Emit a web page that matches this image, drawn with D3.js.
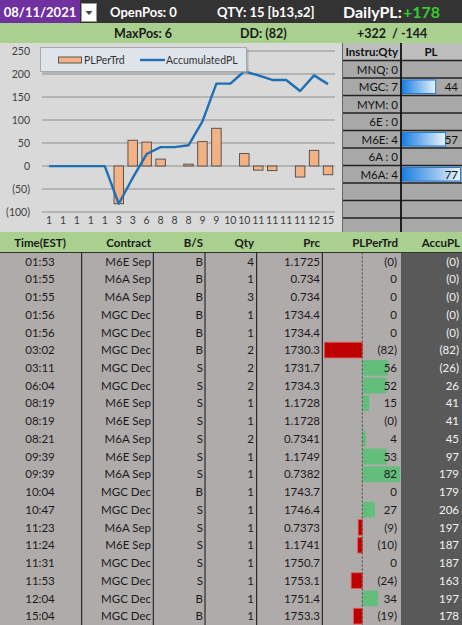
<!DOCTYPE html>
<html><head><meta charset="utf-8">
<script src="https://cdn.jsdelivr.net/npm/d3@7"></script>
<style>
html,body{margin:0;padding:0;background:#fff;}
svg{display:block;font-family:Lato,"Open Sans",sans-serif;}
</style></head>
<body>
<script>
// ---------- data ----------
const times = ["01:53","01:55","01:55","01:56","01:56","03:02","03:11","06:04","08:19","08:19","08:21","09:39","09:39","10:04","10:47","11:23","11:24","11:31","11:53","12:04","15:04"];
const contracts = ["M6E Sep","M6A Sep","M6A Sep","MGC Dec","MGC Dec","MGC Dec","MGC Dec","MGC Dec","M6E Sep","M6E Sep","M6A Sep","M6E Sep","M6A Sep","MGC Dec","MGC Dec","M6A Sep","M6E Sep","MGC Dec","MGC Dec","MGC Dec","MGC Dec"];
const sides = ["B","B","B","B","B","B","S","S","S","S","S","S","S","B","S","S","S","S","S","B","B"];
const qtys = [4,1,3,1,1,2,2,2,1,1,2,1,1,1,1,1,1,1,1,1,1];
const prices = ["1.1725","0.734","0.734","1734.4","1734.4","1730.3","1731.7","1734.3","1.1728","1.1728","0.7341","1.1749","0.7382","1743.7","1746.4","0.7373","1.1741","1750.7","1753.1","1751.4","1753.3"];
const plPerTrd = [-0.2,0,0,0,0,-82,56,52,15,-0.2,4,53,82,0,27,-9,-10,0,-24,34,-19];
const accuPL = [-0.2,-0.2,-0.2,-0.2,-0.2,-82,-26,26,41,41,45,97,179,179,206,197,187,187,163,197,178];
const xTickLabels = ["1","1","1","1","1","3","3","6","8","8","8","9","9","10","10","11","11","11","11","12","15"];
const yTicks = [-100,-50,0,50,100,150,200,250];
const instruments = ["MNQ: 0","MGC: 7","MYM: 0","6E : 0","M6E: 4","6A : 0","M6A: 4"];
const instrPL = [null,44,null,null,57,null,77];
const tableHeaders = ["Time(EST)","Contract","B/S","Qty","Prc","PLPerTrd","AccuPL"];
const legendLabels = ["PLPerTrd","AccumulatedPL"];
const dateLabel = "08/11/2021";
const openPos = "OpenPos: 0";
const qtyLabel = "QTY: 15 [b13,s2]";
const dailyPL = "+178";
const maxPos = "MaxPos: 6";
const ddLabel = "DD: (82)";
const rangeLabel = "+322  / -144";

// ---------- helpers ----------
const fmt = v => v < 0 ? "(" + Math.round(-v) + ")" : String(Math.round(v));
const W = 462, H = 625;
const svg = d3.select("body").append("svg").attr("width", W).attr("height", H);

// ---------- top rows ----------
svg.append("rect").attr("x",0).attr("y",0).attr("width",W).attr("height",23).attr("fill","#333333");
svg.append("rect").attr("x",0).attr("y",0).attr("width",80).attr("height",23).attr("fill","#7030a0");
svg.append("text").attr("x",40).attr("y",16.5).attr("text-anchor","middle").attr("fill","#fff")
  .attr("font-size",13).attr("font-weight","bold").text(dateLabel);
svg.append("rect").attr("x",81.5).attr("y",3.5).attr("width",15).attr("height",18).attr("fill","#fff").attr("stroke","#999");
svg.append("path").attr("d","M85.5,11 L92.5,11 L89,15 Z").attr("fill","#444");
svg.append("text").attr("x",110).attr("y",17).attr("fill","#fff").attr("font-size",13).attr("font-weight","bold").text(openPos);
svg.append("text").attr("x",217).attr("y",17).attr("fill","#fff").attr("font-size",13).attr("font-weight","bold").text(qtyLabel);
svg.append("text").attr("x",343).attr("y",18).attr("fill","#fff").attr("font-size",16).attr("font-weight","bold").text("DailyPL:");
svg.append("text").attr("x",403).attr("y",18).attr("fill","#33cc33").attr("font-size",16).attr("font-weight","bold").text(dailyPL);

svg.append("rect").attr("x",0).attr("y",23).attr("width",W).attr("height",20).attr("fill","#a9d08e");
svg.append("text").attr("x",114).attr("y",37.5).attr("fill","#1a1a1a").attr("font-size",12.5).attr("font-weight","bold").text(maxPos);
svg.append("text").attr("x",240).attr("y",37.5).attr("fill","#1a1a1a").attr("font-size",12.5).attr("font-weight","bold").text(ddLabel);
svg.append("text").attr("x",357).attr("y",37.5).attr("fill","#1a1a1a").attr("font-size",12.5).attr("font-weight","bold").attr("xml:space","preserve").style("white-space","pre").text(rangeLabel);

// ---------- chart ----------
svg.append("rect").attr("x",0).attr("y",43).attr("width",342).attr("height",189).attr("fill","#d9d9d9");
const x = d3.scaleBand().domain(d3.range(plPerTrd.length)).range([42,335]).paddingInner(0.32).paddingOuter(0.16);
const y = d3.scaleLinear().domain([-100,250]).range([212,51]);

const g = svg.append("g");
g.selectAll("line.grid").data(yTicks).join("line").attr("class","grid")
  .attr("x1",42).attr("x2",335).attr("y1",d=>y(d)).attr("y2",d=>y(d))
  .attr("stroke","#8f8f8f").attr("stroke-width",1);
const yAxis = d3.axisLeft(y).tickValues(yTicks).tickFormat(fmt).tickSize(0).tickPadding(0);
const ya = g.append("g").attr("transform","translate(30,0)").call(yAxis);
ya.select(".domain").remove();
ya.selectAll("text").attr("font-size",10.5).attr("fill","#404040").attr("font-family","Lato,sans-serif");

const xAxis = d3.axisBottom(x).tickFormat(i=>xTickLabels[i]).tickSize(0).tickPadding(0);
const xa = g.append("g").attr("transform","translate(0,217)").call(xAxis);
xa.select(".domain").remove();
xa.selectAll("text").attr("font-size",10.5).attr("fill","#404040").attr("font-family","Lato,sans-serif");

g.selectAll("rect.bar").data(plPerTrd).join("rect").attr("class","bar")
  .attr("x",(d,i)=>x(i)).attr("width",x.bandwidth())
  .attr("y",d=>y(Math.max(0,d))).attr("height",d=>Math.abs(y(d)-y(0)))
  .attr("fill","#f4b183").attr("stroke",d=>Math.abs(d)>=1?"#4a4a4a":"none").attr("stroke-width",0.9);

const line = d3.line().x((d,i)=>x(i)+x.bandwidth()/2).y(d=>y(d));
g.append("path").datum(accuPL).attr("d",line).attr("fill","none").attr("stroke","#1f6fb4")
  .attr("stroke-width",2.4).attr("stroke-linejoin","round");

// legend
const lg = g.append("g");
lg.append("rect").attr("x",42.5).attr("y",49).attr("width",206).attr("height",24).attr("fill","#9a9a9a").attr("opacity",0.6);
lg.append("rect").attr("x",40.5).attr("y",47.5).attr("width",206).attr("height",24).attr("fill","#dfe3ea").attr("stroke","#a9a9a9");
lg.append("rect").attr("x",58.5).attr("y",57).attr("width",23).attr("height",6).attr("fill","#f4b183").attr("stroke","#4a4a4a").attr("stroke-width",0.9);
lg.append("text").attr("x",84).attr("y",63.5).attr("font-size",10.5).attr("fill","#333").text(legendLabels[0]);
lg.append("line").attr("x1",140).attr("x2",165).attr("y1",60).attr("y2",60).attr("stroke","#1f6fb4").attr("stroke-width",2.4);
lg.append("text").attr("x",166).attr("y",63.5).attr("font-size",10.5).attr("fill","#333").text(legendLabels[1]);

// ---------- right panel ----------
const rp = svg.append("g");
const rowsR = d3.range(11);
const rY = d3.scaleLinear().domain([0,1]).range([43,60.5]);
rp.append("rect").attr("x",342).attr("y",43).attr("width",120).attr("height",189).attr("fill","#a8a8a8");
rp.append("rect").attr("x",342).attr("y",43).attr("width",120).attr("height",17.5).attr("fill","#bdbdbd");
rp.selectAll("line.rb").data(rowsR.slice(1,11)).join("line").attr("class","rb")
  .attr("x1",342).attr("x2",W).attr("y1",d=>rY(d)).attr("y2",d=>rY(d)).attr("stroke","#222").attr("stroke-width",1.4);
rp.append("line").attr("x1",342.5).attr("x2",342.5).attr("y1",43).attr("y2",232).attr("stroke","#666");
rp.append("line").attr("x1",401).attr("x2",401).attr("y1",43).attr("y2",232).attr("stroke","#111").attr("stroke-width",1.8);
rp.append("text").attr("x",398).attr("y",56).attr("text-anchor","end").attr("font-size",11.5).attr("font-weight","bold").attr("fill","#111").text("Instru:Qty");
rp.append("text").attr("x",431).attr("y",56).attr("text-anchor","middle").attr("font-size",11.5).attr("font-weight","bold").attr("fill","#111").text("PL");
const defs = svg.append("defs");
const grad = defs.append("linearGradient").attr("id","blueGrad");
grad.append("stop").attr("offset","0%").attr("stop-color","#1c7fe0");
grad.append("stop").attr("offset","100%").attr("stop-color","#eaf3fc");
const plX = d3.scaleLinear().domain([0,77]).range([402.5,460.5]);
rp.selectAll("text.instr").data(instruments).join("text").attr("class","instr")
  .attr("x",398).attr("y",(d,i)=>rY(i+1)+13).attr("text-anchor","end").attr("font-size",11.5).attr("fill","#111").text(d=>d);
rp.selectAll("rect.plb").data(instrPL.map((v,i)=>({v,i})).filter(d=>d.v!==null)).join("rect").attr("class","plb")
  .attr("x",plX(0)).attr("y",d=>rY(d.i+1)+2).attr("width",d=>plX(d.v)-plX(0)).attr("height",13.5)
  .attr("fill","url(#blueGrad)").attr("stroke","#1c7fe0").attr("stroke-width",1);
rp.selectAll("text.plv").data(instrPL.map((v,i)=>({v,i})).filter(d=>d.v!==null)).join("text").attr("class","plv")
  .attr("x",458).attr("y",d=>rY(d.i+1)+13).attr("text-anchor","end").attr("font-size",11.5).attr("fill","#111").text(d=>d.v);

// ---------- main table ----------
const tb = svg.append("g");
const n = times.length;
const rowY = d3.scaleBand().domain(d3.range(n)).range([252.5,625]);
tb.append("rect").attr("x",0).attr("y",232).attr("width",W).attr("height",20.5).attr("fill","#a9d08e");
tb.append("rect").attr("x",0).attr("y",252.5).attr("width",401).attr("height",H-252.5).attr("fill","#afabab");
tb.append("rect").attr("x",401).attr("y",252.5).attr("width",61).attr("height",H-252.5).attr("fill","#595959");
tb.append("line").attr("x1",0).attr("x2",W).attr("y1",252.5).attr("y2",252.5).attr("stroke","#333").attr("stroke-width",1);
[81.7,153.3,205,256.7,322.3].forEach(xx=>{
  tb.append("line").attr("x1",xx).attr("x2",xx).attr("y1",252.5).attr("y2",H).attr("stroke","#111").attr("stroke-width",1);
});
const hdrX = [40,151,203,254,320,398,460];
const hdrAnchor = ["middle","end","end","end","end","end","end"];
tb.selectAll("text.hdr").data(tableHeaders).join("text").attr("class","hdr")
  .attr("x",(d,i)=>hdrX[i]).attr("y",247).attr("text-anchor",(d,i)=>hdrAnchor[i])
  .attr("font-size",11.5).attr("font-weight","bold").attr("fill","#1a1a1a").text(d=>d);

// data bars
const pX = d3.scaleLinear().domain([-82,82]).range([324.3,400.3]);
tb.selectAll("rect.pb").data(plPerTrd).join("rect").attr("class","pb")
  .attr("x",d=>pX(Math.min(0,d))).attr("width",d=>Math.abs(d)>=1?Math.max(3.5,Math.abs(pX(d)-pX(0))):0)
  .attr("y",(d,i)=>rowY(i)+1).attr("height",rowY.bandwidth()-2)
  .attr("fill",d=>d<0?"#c00000":"#63be7b").attr("stroke",d=>d<0?"#e06060":"none").attr("stroke-width",0.8);
tb.append("line").attr("x1",pX(0)).attr("x2",pX(0)).attr("y1",252.5).attr("y2",H)
  .attr("stroke","#444").attr("stroke-width",1).attr("stroke-dasharray","2,2");

const cols = [
  {vals:times, x:40, anchor:"middle"},
  {vals:contracts, x:151, anchor:"end"},
  {vals:sides, x:203, anchor:"end"},
  {vals:qtys, x:254, anchor:"end"},
  {vals:prices, x:320, anchor:"end"},
  {vals:plPerTrd.map(fmt), x:397, anchor:"end"},
  {vals:accuPL.map(fmt), x:459, anchor:"end", color:"#f2f2f2"}
];
cols.forEach(c=>{
  tb.selectAll(null).data(c.vals).join("text")
    .attr("x",c.x).attr("y",(d,i)=>rowY(i)+rowY.bandwidth()/2+4.2)
    .attr("text-anchor",c.anchor).attr("font-size",11.5).attr("fill",c.color||"#1a1a1a").text(d=>d);
});
</script>
</body></html>
